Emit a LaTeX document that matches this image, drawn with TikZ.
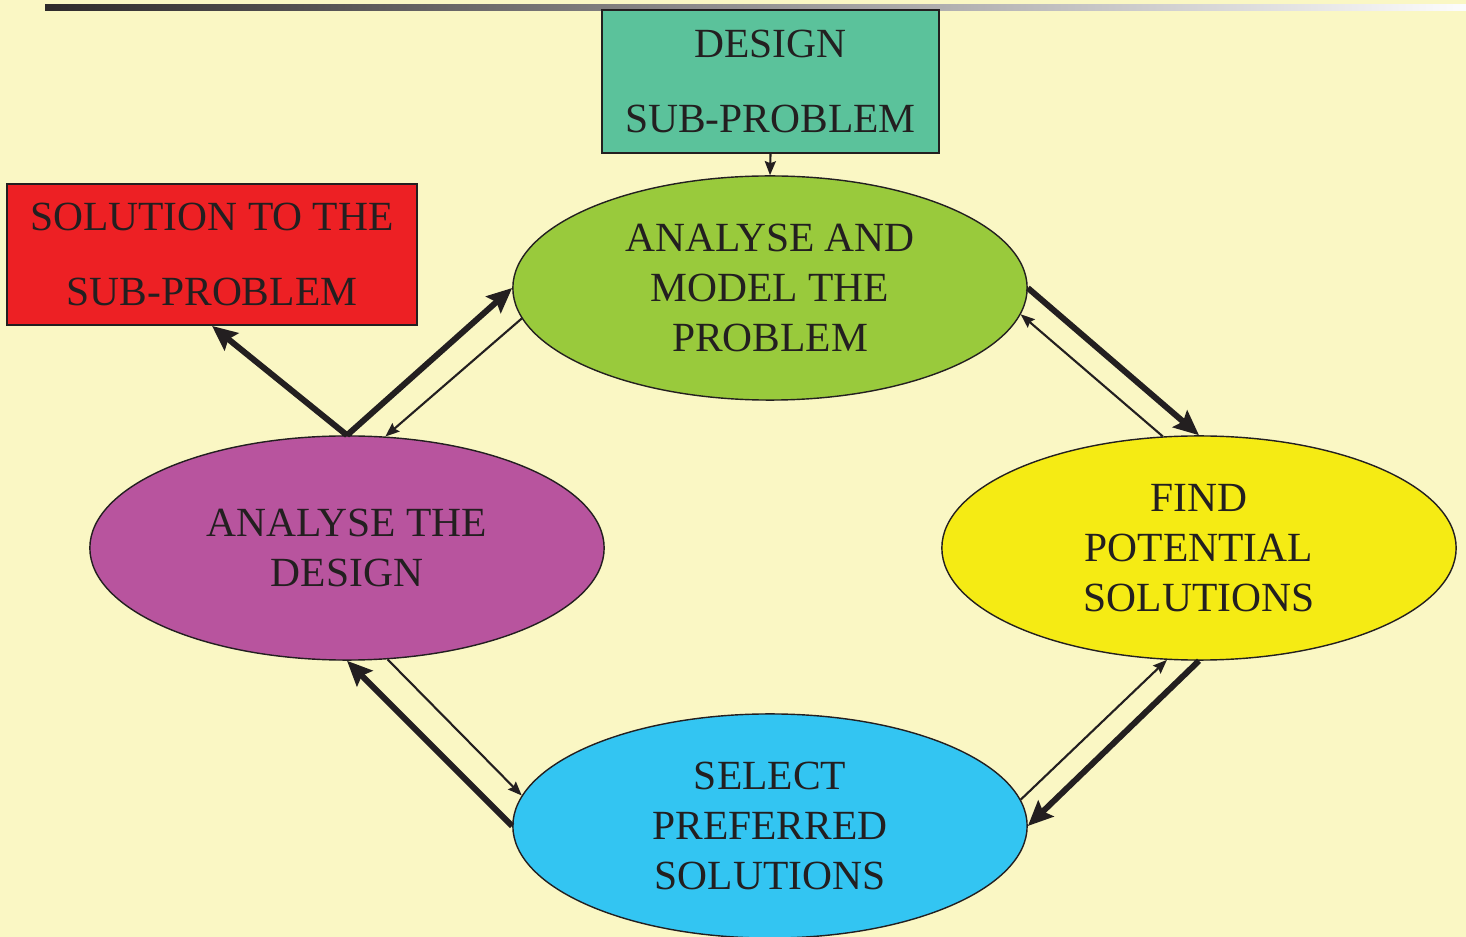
\documentclass[tikz,border=0pt]{standalone}
\usepackage{fontspec}
\setmainfont{Liberation Serif}
\usepackage{xcolor}
\definecolor{dsbg}{RGB}{250,247,196}
\definecolor{dsdark}{RGB}{35,31,32}
\definecolor{dsteal}{RGB}{91,194,155}
\definecolor{dsred}{RGB}{237,32,36}
\definecolor{dsgreen}{RGB}{153,202,60}
\definecolor{dspurple}{RGB}{184,84,158}
\definecolor{dsyellow}{RGB}{245,235,20}
\definecolor{dsblue}{RGB}{51,197,242}
\usetikzlibrary{arrows.meta, shapes.geometric}

\tikzset{
  stage/.style={ellipse, draw=dsdark, line width=0.4pt, inner sep=0pt,
    minimum width=5.14cm, minimum height=2.24cm, text=dsdark, align=center,
    font=\fontsize{11.8}{14.2}\selectfont},
  task/.style={rectangle, draw=dsdark, line width=0.5pt, inner sep=0pt,
    text=dsdark, align=center, font=\fontsize{11.8}{21.3}\selectfont},
  fwd/.style={draw=dsdark, line width=1.7pt,
    -{Stealth[length=0.25cm, width=0.22cm, inset=0.04cm]}},
  back/.style={draw=dsdark, line width=0.6pt,
    -{Stealth[length=0.14cm, width=0.11cm, inset=0.02cm]}}
}

\begin{document}
\begin{tikzpicture}[x=0.01cm, y=-0.01cm]
  % background and page bar
  \fill[dsbg] (0,0) rectangle (1466,937);
  \useasboundingbox (0,0) rectangle (1466,937);
  \shade[left color=dsdark!95, right color=white!98!gray] (45,5) rectangle (1466,11);

  % --- Boxes ---
  \node[task, fill=dsteal, minimum width=3.37cm, minimum height=1.43cm] (sub) at (770.5,81.5)
    {DESIGN\\SUB-PROBLEM};
  \node[task, fill=dsred, minimum width=4.10cm, minimum height=1.41cm] (sol) at (212,254.5)
    {SOLUTION TO THE\\SUB-PROBLEM};

  % --- Stages of the cycle ---
  \node[stage, fill=dsgreen] (model) at (770,288) {ANALYSE AND\\MODEL THE\\PROBLEM};
  \node[stage, fill=dspurple] (check) at (347,548) {ANALYSE THE\\DESIGN};
  \node[stage, fill=dsyellow] (find) at (1199,548) {FIND\\POTENTIAL\\SOLUTIONS};
  \node[stage, fill=dsblue] (select) at (770,826) {SELECT\\PREFERRED\\SOLUTIONS};

  % --- Connectors ---
  \draw[back] (sub.south) -- (model.north);
  \draw[fwd] (check.north) -- (sol.south);
  \draw[fwd] (check.north) -- (model.180);
  \draw[back] (model.187) -- (check.71);
  \draw[fwd] (model.0) -- (find.north);
  \draw[back] (find.108.5) -- (model.354);
  \draw[back] (check.290) -- (select.173);
  \draw[fwd] (select.180) -- (check.270);
  \draw[back] (select.6.5) -- (find.254);
  \draw[fwd] (find.south) -- (select.0);
\end{tikzpicture}
\end{document}
